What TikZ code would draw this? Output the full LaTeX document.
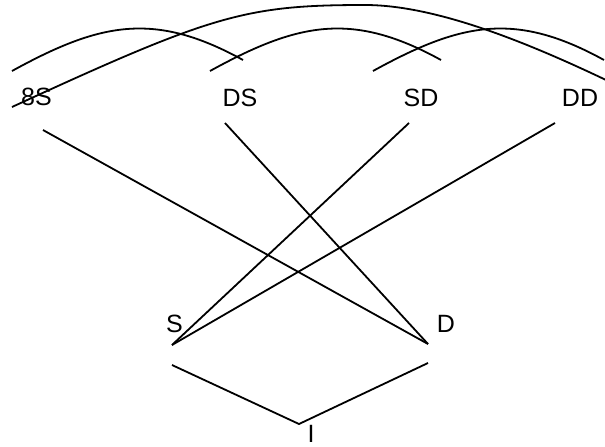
\documentclass[tikz,border=0pt]{standalone}
\usepackage{fontspec}
\setmainfont{Liberation Sans}
\begin{document}
\begin{tikzpicture}[x=1pt,y=-1pt,
  lbl/.style={inner sep=0pt, font=\fontsize{25}{26}\selectfont},
  edge/.style={line width=1.8pt, draw=black}]
\useasboundingbox (0,0) rectangle (605,447);
% labels
\node[lbl] (SS) at (36.5,97) {8S};
\node[lbl] (DS) at (240,97.5) {DS};
\node[lbl] (SD) at (421,98) {SD};
\node[lbl] (DD) at (580,98) {DD};
\node[lbl] (S) at (174.5,324) {S};
\node[lbl] (D) at (446,324) {D};
\node[lbl] (I) at (311,433.5) {I};
% connector end points
\coordinate (ssL) at (43,130);
\coordinate (dsL) at (225,123);
\coordinate (sdL) at (409,123);
\coordinate (ddL) at (555,123);
\coordinate (sP) at (172,345);
\coordinate (dP) at (428,344);
\coordinate (sB) at (172,365);
\coordinate (dB) at (428,363);
\coordinate (iT) at (299,424);
% arcs
\coordinate (a1) at (12,71);   \coordinate (a2) at (243,60);
\coordinate (d1) at (210,71);  \coordinate (d2) at (441,60);
\coordinate (c1) at (373,71);  \coordinate (c2) at (604,60);
\coordinate (b1) at (12,107);  \coordinate (bT) at (365,5);
\coordinate (b2) at (606,80);
% crossing lines
\draw[edge] (ssL) -- (dP);
\draw[edge] (dsL) -- (dP);
\draw[edge] (sdL) -- (sP);
\draw[edge] (ddL) -- (sP);
% lower V
\draw[edge] (sB) -- (iT) -- (dB);
% top arcs
\draw[edge] (a1) .. controls (100.5,22.3) and (154.5,11.3) .. (a2);
\draw[edge] (d1) .. controls (298.5,22.3) and (352.5,11.3) .. (d2);
\draw[edge] (c1) .. controls (461.5,22.3) and (515.5,11.3) .. (c2);
\draw[edge] (b1) .. controls (212,15) and (245,5) .. (bT)
                 .. controls (435,5) and (526,41.9) .. (b2);
\end{tikzpicture}
\end{document}
